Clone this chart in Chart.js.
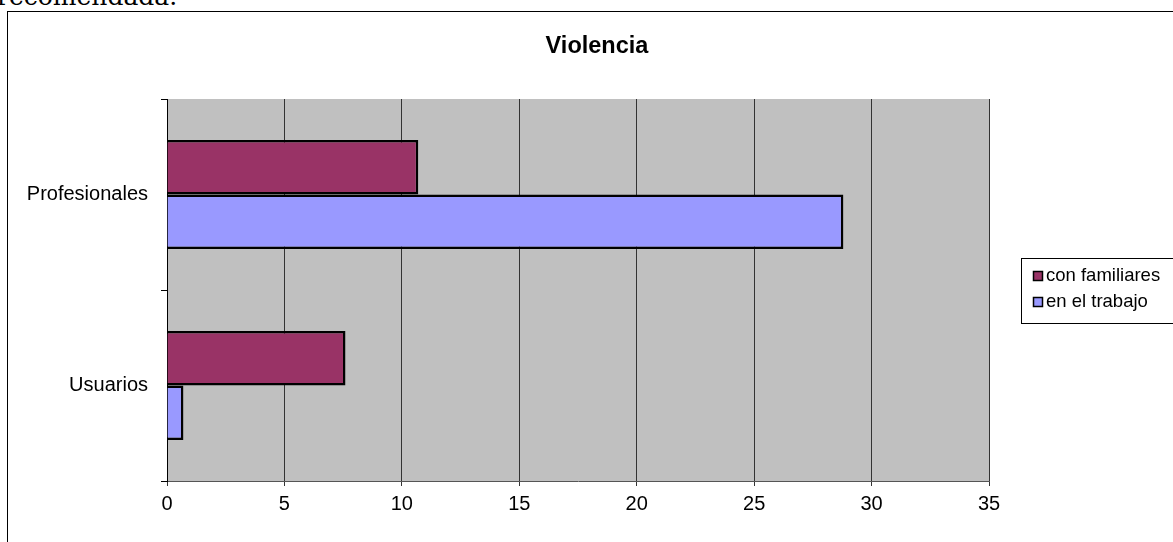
<!DOCTYPE html>
<html>
<head>
<meta charset="utf-8">
<script src="https://cdn.jsdelivr.net/npm/chart.js@4/dist/chart.umd.min.js"></script>
<style>
  html, body { margin: 0; padding: 0; background: #fff; overflow: hidden; }
  #wrap { position: relative; width: 1173px; height: 542px; overflow: hidden; }
  #above { position: absolute; left: -3px; top: -18px; font: 25px/29px 'DejaVu Serif', serif; color: #000; white-space: nowrap; }
  canvas { position: absolute; left: 0; top: 0; }
</style>
</head>
<body>
<div id="wrap">
  <div id="above">recomendada.</div>
  <canvas id="chart" width="1173" height="542"></canvas>
</div>
<script>
// data
const categories = ['Profesionales', 'Usuarios']
const seriesNames = ['con familiares', 'en el trabajo']
const conFamiliares = [10.7, 7.6]
const enElTrabajo = [28.8, 0.7]
const xTicks = [0, 5, 10, 15, 20, 25, 30, 35]
const chartTitle = 'Violencia'

const FONT = "'Liberation Sans', Arial, sans-serif"

// grey plot area, outer frame and the title centred on the frame
const backdrop = {
  id: 'backdrop',
  beforeDraw (chart) {
    const { ctx, chartArea: a } = chart
    ctx.save()
    ctx.fillStyle = '#c0c0c0'
    ctx.fillRect(a.left, a.top, a.right - a.left, a.bottom - a.top)
    ctx.strokeStyle = '#000'
    ctx.lineWidth = 1
    ctx.strokeRect(7.5, 11.5, 2000, 2000)
    ctx.fillStyle = '#000'
    ctx.font = 'bold 23.5px ' + FONT
    ctx.textAlign = 'center'
    ctx.textBaseline = 'middle'
    ctx.fillText(chartTitle, 597, 47)
    ctx.restore()
  }
}

// boxed legend on the right
const sideLegend = {
  id: 'sideLegend',
  afterDraw (chart) {
    const ctx = chart.ctx
    ctx.save()
    ctx.strokeStyle = '#000'
    ctx.lineWidth = 1
    ctx.strokeRect(1021.5, 258.5, 300, 65)
    ctx.font = '18.5px ' + FONT
    ctx.textBaseline = 'middle'
    chart.data.datasets.forEach((ds, i) => {
      const y = 276 + i * 26
      ctx.fillStyle = ds.backgroundColor
      ctx.fillRect(1033, y - 5, 10, 10)
      ctx.lineWidth = 1.5
      ctx.strokeRect(1033.5, y - 4.5, 9, 9)
      ctx.fillStyle = '#000'
      ctx.fillText(ds.label, 1046, y)
    })
    ctx.restore()
  }
}

const barChart = new Chart(document.getElementById('chart'), {
  type: 'bar',
  data: {
    labels: categories,
    datasets: [
      {
        label: seriesNames[0],
        data: conFamiliares,
        backgroundColor: '#993366',
        borderColor: '#000',
        borderWidth: 2.5,
        categoryPercentage: 0.57,
        barPercentage: 1
      },
      {
        label: seriesNames[1],
        data: enElTrabajo,
        backgroundColor: '#9999ff',
        borderColor: '#000',
        borderWidth: 2.5,
        categoryPercentage: 0.57,
        barPercentage: 1
      }
    ]
  },
  options: {
    indexAxis: 'y',
    responsive: false,
    animation: false,
    events: [],
    layout: { padding: { left: 0, right: 184, top: 99, bottom: 0 } },
    plugins: {
      legend: { display: false },
      tooltip: { enabled: false },
      title: { display: false }
    },
    scales: {
      x: {
        min: 0,
        max: 35,
        afterBuildTicks (scale) { scale.ticks = xTicks.map(v => ({ value: v })) },
        afterFit (scale) { scale.height = 61 },
        border: { color: '#555', width: 1 },
        grid: { color: '#333', lineWidth: 1, tickLength: 5, drawOnChartArea: true },
        ticks: { color: '#000', padding: 6, font: { family: FONT, size: 20 } }
      },
      y: {
        afterFit (scale) { scale.width = 167 },
        border: { color: '#000', width: 1 },
        grid: { offset: true, drawOnChartArea: false, color: '#000', tickLength: 6 },
        ticks: { color: '#000', padding: 13, font: { family: FONT, size: 20 } }
      }
    }
  },
  plugins: [backdrop, sideLegend]
})
</script>
</body>
</html>
